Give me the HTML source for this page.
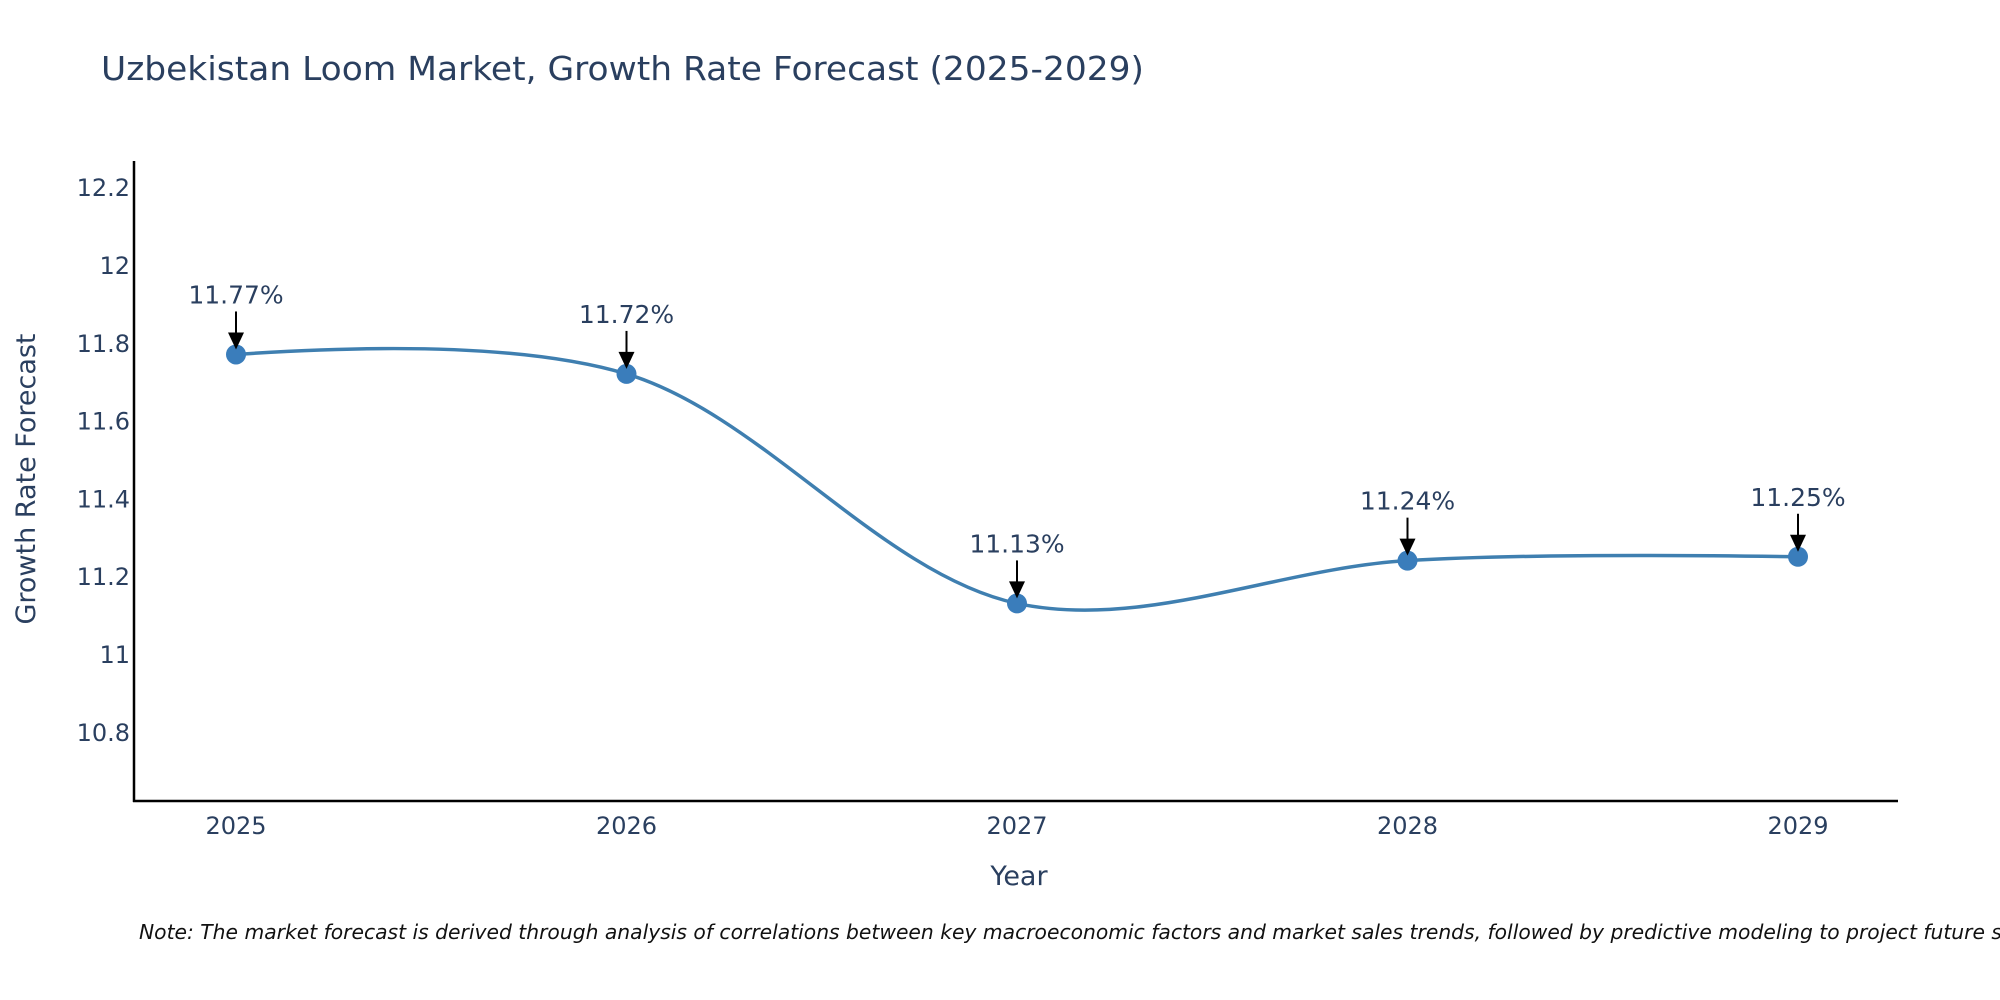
<!DOCTYPE html>
<html><head><meta charset="utf-8"><style>
html,body{margin:0;padding:0;background:#fff;}
svg{display:block;font-family:"DejaVu Sans","Liberation Sans",sans-serif;}
</style></head><body>
<svg id="chart" width="2000" height="1000" viewBox="0 0 2000 1000">
<text x="101" y="80" font-size="33" fill="#2a3f5f" textLength="1043" lengthAdjust="spacingAndGlyphs">Uzbekistan Loom Market, Growth Rate Forecast (2025-2029)</text>
<g id="yticks"></g>
<g id="xticks"></g>
<line x1="134" y1="161" x2="134" y2="802" stroke="#000" stroke-width="2.5"/>
<line x1="133" y1="801" x2="1898" y2="801" stroke="#000" stroke-width="2.5"/>
<g id="series"></g>
<g id="annots"></g>
<text x="1019" y="885" font-size="27" fill="#2a3f5f" text-anchor="middle">Year</text>
<text x="0" y="0" font-size="27" fill="#2a3f5f" text-anchor="middle" transform="translate(35,479) rotate(-90)">Growth Rate Forecast</text>
<text x="139" y="939" font-size="20.3" font-style="italic" fill="#111">Note: The market forecast is derived through analysis of correlations between key macroeconomic factors and market sales trends, followed by predictive modeling to project future sales.</text>
</svg>
<script>
const years = [2025, 2026, 2027, 2028, 2029];
const rates = [11.77, 11.72, 11.13, 11.24, 11.25];
const yTickValues = [10.8, 11, 11.2, 11.4, 11.6, 11.8, 12, 12.2];
const yTickLabels = ["10.8", "11", "11.2", "11.4", "11.6", "11.8", "12", "12.2"];

const NS = "http://www.w3.org/2000/svg";
function xScale(yr){ return 236 + (yr - 2025) * 390.5; }
function yScale(v){ return 654 - (v - 11) * 389; }
function mk(tag, attrs, parent){
  const e = document.createElementNS(NS, tag);
  for (const k in attrs) e.setAttribute(k, attrs[k]);
  parent.appendChild(e); return e;
}
const yt = document.getElementById('yticks');
yTickValues.forEach((v, i) => {
  const t = mk('text', {x: 130, y: yScale(v) + 9, 'font-size': 24, fill: '#2a3f5f', 'text-anchor': 'end'}, yt);
  
  
  t.textContent = yTickLabels[i];
});
const xt = document.getElementById('xticks');
years.forEach(yr => {
  const t = mk('text', {x: xScale(yr), y: 834, 'font-size': 24, fill: '#2a3f5f', 'text-anchor': 'middle'}, xt);
  
  
  t.textContent = String(yr);
});
const pts = years.map((yr, i) => [xScale(yr), yScale(rates[i])]);
function tangent(p, c, n, s){
  const d1x = p[0]-c[0], d1y = p[1]-c[1], d2x = n[0]-c[0], d2y = n[1]-c[1];
  const d1a = Math.pow(d1x*d1x + d1y*d1y, 0.25), d2a = Math.pow(d2x*d2x + d2y*d2y, 0.25);
  const nx = (d2a*d2a*d1x - d1a*d1a*d2x)*s, ny = (d2a*d2a*d1y - d1a*d1a*d2y)*s;
  const den1 = 3*d2a*(d1a+d2a), den2 = 3*d1a*(d1a+d2a);
  return [[c[0]+nx/den1, c[1]+ny/den1],[c[0]-nx/den2, c[1]-ny/den2]];
}
const tg = [];
for (let i = 1; i < pts.length - 1; i++) tg.push(tangent(pts[i-1], pts[i], pts[i+1], 1));
let d = 'M' + pts[0] + 'Q' + tg[0][0] + ' ' + pts[1];
for (let i = 2; i < pts.length - 1; i++) d += 'C' + tg[i-2][1] + ' ' + tg[i-1][0] + ' ' + pts[i];
d += 'Q' + tg[pts.length-3][1] + ' ' + pts[pts.length-1];
const series = document.getElementById('series');
const line = mk('path', {d: d, fill: 'none', stroke: '#3f7fb0', 'stroke-width': 3.5}, series);


pts.forEach(p => {
  const c = mk('circle', {cx: p[0], cy: p[1], r: 10, fill: '#3a7dbb'}, series);
  
  
});
const an = document.getElementById('annots');
pts.forEach((p, i) => {
  const l = mk('line', {x1: p[0], y1: p[1]-43, x2: p[0], y2: p[1]-20, stroke: '#000', 'stroke-width': 2}, an);
  
  
  const h = mk('polygon', {points: (p[0]-8)+','+(p[1]-22)+' '+(p[0]+8)+','+(p[1]-22)+' '+p[0]+','+(p[1]-5), fill: '#000'}, an);
  
  
  const t = mk('text', {x: p[0], y: p[1]-51, 'font-size': 25, fill: '#2a3f5f', 'text-anchor': 'middle'}, an);
  
  
  t.textContent = rates[i].toFixed(2) + '%';
});
</script>
</body></html>
